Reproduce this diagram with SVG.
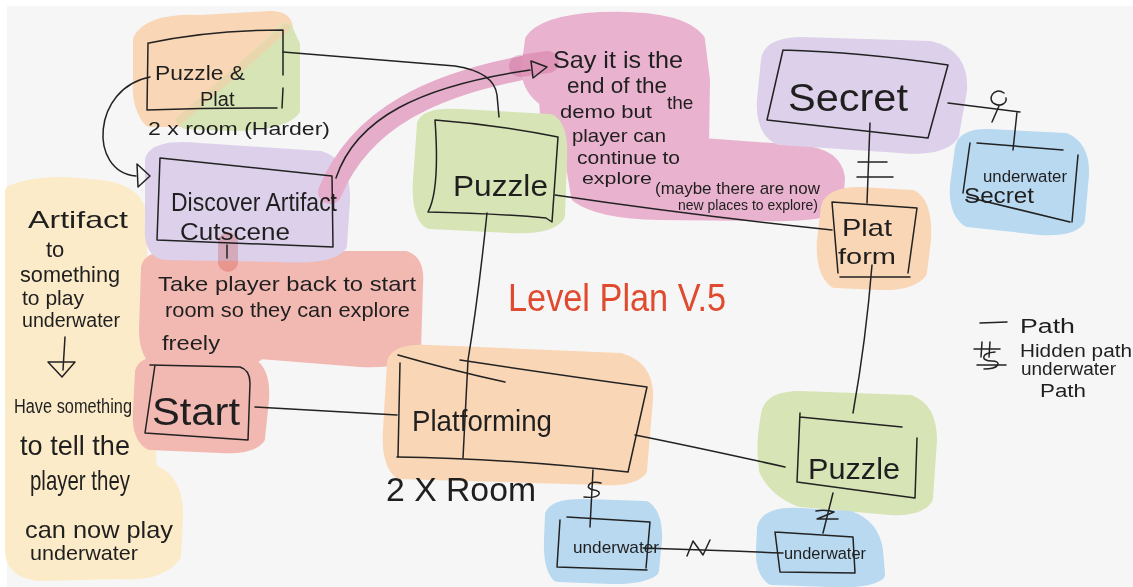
<svg xmlns="http://www.w3.org/2000/svg" width="1133" height="587" viewBox="0 0 1133 587">
  <style>
    .blob { stroke-linejoin: round; stroke-linecap: round; stroke-width: 14; }
    .mul { mix-blend-mode: multiply; }
    .orange { fill: #f9d6b5; stroke: #f9d6b5; }
    .green { fill: #d7e4b6; stroke: #d7e4b6; }
    .purple { fill: #ddd0ea; stroke: #ddd0ea; }
    .pink { fill: #e9b2ce; stroke: #e9b2ce; }
    .salmon { fill: #f2b9b3; stroke: #f2b9b3; }
    .blue { fill: #b9d9f0; stroke: #b9d9f0; }
    .yellow { fill: #fcebc9; stroke: #fcebc9; }
    .ink { fill: none; stroke: #222; stroke-width: 1.5; stroke-linecap: round; stroke-linejoin: round; }
    text { font-family: "Liberation Sans", "DejaVu Sans", sans-serif; fill: #1f1f1f; }
    .title { fill: #e04a2f; }
  </style>

  <!-- paper -->
  <rect x="0" y="0" width="1133" height="587" fill="#ffffff"/>
  <rect x="7" y="6" width="1126" height="581" fill="#f6f6f6"/>

  <!-- side note: artifact -->
  <g id="note-artifact">
    <path class="blob yellow" d="M 12 192 Q 40 180 90 186 Q 135 188 140 215 L 140 365 Q 150 380 145 400 L 150 470 Q 178 480 176 520 L 174 555 Q 160 575 120 572 L 40 574 Q 12 572 12 550 Z"/>
    <text x="28" y="228" font-size="24" textLength="100" lengthAdjust="spacingAndGlyphs">Artifact</text>
    <text x="46" y="257" font-size="22">to</text>
    <text x="20" y="282" font-size="22" textLength="100" lengthAdjust="spacingAndGlyphs">something</text>
    <text x="22" y="305" font-size="21" textLength="62" lengthAdjust="spacingAndGlyphs">to play</text>
    <text x="22" y="327" font-size="20" textLength="98" lengthAdjust="spacingAndGlyphs">underwater</text>
    <path class="ink" d="M 65 337 L 63 370 M 48 362 L 75 362 L 62 377 Z"/>
    <text x="14" y="413" font-size="20" textLength="118" lengthAdjust="spacingAndGlyphs">Have something</text>
    <text x="20" y="455" font-size="28" textLength="110" lengthAdjust="spacingAndGlyphs">to tell the</text>
    <text x="30" y="490" font-size="28" textLength="100" lengthAdjust="spacingAndGlyphs">player they</text>
    <text x="25" y="538" font-size="24" textLength="148" lengthAdjust="spacingAndGlyphs">can now play</text>
    <text x="30" y="560" font-size="21" textLength="108" lengthAdjust="spacingAndGlyphs">underwater</text>
  </g>

  <!-- take player back note -->
  <g id="note-take-back">
    <path class="blob salmon" d="M 148 268 Q 150 256 180 258 L 405 258 Q 418 262 416 285 L 414 350 Q 400 362 360 360 L 260 352 Q 250 362 220 362 L 160 362 Q 146 355 146 330 Z"/>
    <text x="158" y="291" font-size="21" textLength="258" lengthAdjust="spacingAndGlyphs">Take player back to start</text>
    <text x="165" y="317" font-size="21" textLength="245" lengthAdjust="spacingAndGlyphs">room so they can explore</text>
    <text x="162" y="350" font-size="20" textLength="58" lengthAdjust="spacingAndGlyphs">freely</text>
  </g>

  <!-- level rooms -->
  <g id="room-puzzle-plat">
    <path class="blob orange" d="M 140 40 Q 150 20 200 22 L 270 18 Q 285 18 286 28 L 180 120 L 150 120 Q 138 105 140 80 Z"/>
    <path class="blob green" d="M 286 30 L 293 45 L 293 110 Q 280 124 230 124 L 186 122 Z"/>
    <path d="M 286 28 L 180 120" stroke="#ead6ad" stroke-width="8" stroke-linecap="round"/>
    <path class="ink" d="M 149 43 Q 210 30 283 30 M 148 43 L 147 110 Q 210 108 277 108 M 283 30 L 283 75 M 283 88 L 282 108"/>
    <text x="155" y="80" font-size="21" textLength="90" lengthAdjust="spacingAndGlyphs">Puzzle &amp;</text>
    <text x="200" y="106" font-size="20">Plat</text>
    <text x="148" y="135" font-size="18" textLength="182" lengthAdjust="spacingAndGlyphs">2 x room (Harder)</text>
  </g>

  <g id="room-cutscene">
    <path class="blob purple" d="M 152 160 Q 156 146 200 150 L 320 158 Q 344 166 343 200 L 340 245 Q 330 258 280 255 L 165 253 Q 150 250 152 225 Z"/>
    <!-- highlight band that carries the connector up to the note -->
    <path d="M 330 192 C 360 120, 430 82, 545 64" fill="none" stroke="#e6adcb" stroke-width="24" stroke-linecap="round"/>
    <path class="ink" d="M 160 158 L 332 176 L 333 247 L 157 240 Z"/>
    <text x="171" y="211" font-size="26" textLength="166" lengthAdjust="spacingAndGlyphs">Discover Artifact</text>
    <text x="180" y="240" font-size="24" textLength="110" lengthAdjust="spacingAndGlyphs">Cutscene</text>
  </g>

  <!-- short band below the cutscene -->
  <path class="mul" d="M 228 242 L 228 262" fill="none" stroke="#f5cfcb" stroke-width="20" stroke-linecap="round"/>

  <!-- end of demo note -->
  <g id="note-demo-end">
    <path class="blob pink" d="M 532 40 Q 545 22 600 19 Q 680 16 698 40 L 703 80 L 702 145 L 800 152 Q 835 155 838 178 L 836 205 Q 820 216 760 214 L 660 213 Q 600 212 578 196 L 572 160 Q 552 150 548 130 L 546 100 Q 530 90 528 70 Z"/>
    <path class="mul" d="M 520 66 L 548 62" stroke="#f3d6e4" stroke-width="22" stroke-linecap="round"/>
    <text x="553" y="68" font-size="24" textLength="130" lengthAdjust="spacingAndGlyphs">Say it is the</text>
    <text x="567" y="93" font-size="22" textLength="100" lengthAdjust="spacingAndGlyphs">end of the</text>
    <text x="667" y="109" font-size="19">the</text>
    <text x="560" y="118" font-size="19" textLength="92" lengthAdjust="spacingAndGlyphs">demo but</text>
    <text x="572" y="142" font-size="19" textLength="94" lengthAdjust="spacingAndGlyphs">player can</text>
    <text x="577" y="164" font-size="18" textLength="103" lengthAdjust="spacingAndGlyphs">continue to</text>
    <text x="582" y="184" font-size="17" textLength="70" lengthAdjust="spacingAndGlyphs">explore</text>
    <text x="655" y="194" font-size="17" textLength="165" lengthAdjust="spacingAndGlyphs">(maybe there are now</text>
    <text x="678" y="210" font-size="14" textLength="140" lengthAdjust="spacingAndGlyphs">new places to explore)</text>
  </g>

  <g id="room-puzzle-top">
    <path class="blob green" d="M 424 124 Q 428 114 460 116 L 550 121 Q 562 128 560 160 L 558 215 Q 550 228 510 226 L 430 222 Q 418 215 420 180 Z"/>
    <path class="ink" d="M 435 120 Q 500 125 558 137 L 552 222 L 546 218 Q 490 213 428 212 Q 440 190 435 120"/>
    <text x="453" y="196" font-size="30" textLength="95" lengthAdjust="spacingAndGlyphs">Puzzle</text>
  </g>

  <g id="room-secret">
    <path class="blob purple" d="M 768 60 Q 770 45 800 44 L 930 48 Q 962 55 960 90 L 952 135 Q 940 150 900 146 L 780 138 Q 762 130 764 100 Z"/>
    <path class="ink" d="M 783 50 L 767 120 L 928 138 L 948 65 Q 860 52 783 50"/>
    <text x="788" y="111" font-size="38" textLength="120" lengthAdjust="spacingAndGlyphs">Secret</text>
  </g>

  <g id="room-underwater-secret">
    <path class="blob blue" d="M 962 148 Q 965 135 990 136 L 1065 140 Q 1083 148 1082 175 L 1078 220 Q 1070 230 1040 228 L 968 220 Q 955 210 957 185 Z"/>
    <path class="ink" d="M 977 143 L 1063 150 M 970 143 L 963 193 M 967 197 L 1070 222 M 1078 155 L 1072 222"/>
    <text x="983" y="182" font-size="16" textLength="84" lengthAdjust="spacingAndGlyphs">underwater</text>
    <text x="964" y="203" font-size="22" textLength="70" lengthAdjust="spacingAndGlyphs">Secret</text>
  </g>

  <g id="room-platform-small">
    <path class="blob orange" d="M 828 207 Q 832 194 860 194 L 912 197 Q 926 205 924 240 L 920 272 Q 910 284 880 283 L 835 281 Q 822 270 824 240 Z"/>
    <path class="ink" d="M 832 202 L 917 208 L 908 273 M 832 202 L 838 273 M 840 277 L 910 277"/>
    <text x="842" y="236" font-size="24" textLength="50" lengthAdjust="spacingAndGlyphs">Plat</text>
    <text x="838" y="264" font-size="22" textLength="58" lengthAdjust="spacingAndGlyphs">form</text>
  </g>

  <g id="room-start">
    <path class="blob salmon" d="M 142 372 Q 145 360 180 362 L 250 364 Q 264 372 262 400 L 258 438 Q 250 448 220 446 L 150 443 Q 138 435 140 410 Z"/>
    <path class="ink" d="M 150 365 L 240 367 Q 250 370 250 383 L 248 440 L 145 433 L 155 365"/>
    <text x="152" y="425" font-size="38" textLength="88" lengthAdjust="spacingAndGlyphs">Start</text>
  </g>

  <g id="room-platforming">
    <path class="blob orange" d="M 394 362 Q 398 350 430 352 L 620 360 Q 648 368 646 400 L 640 470 Q 630 480 600 478 L 400 472 Q 388 462 390 430 Z"/>
    <path class="ink" d="M 398 355 Q 450 370 505 382 M 460 360 Q 560 375 647 387 L 628 472 Q 500 458 397 457 M 400 363 L 398 457"/>
    <text x="412" y="431" font-size="30" textLength="140" lengthAdjust="spacingAndGlyphs">Platforming</text>
    <text x="386" y="501" font-size="34" fill="#3a3a3a" textLength="150" lengthAdjust="spacingAndGlyphs">2 X Room</text>
  </g>

  <g id="room-puzzle-bottom">
    <path class="blob green" d="M 768 415 Q 770 398 800 398 L 910 402 Q 930 410 930 440 L 926 498 Q 918 510 890 508 L 800 500 Q 775 490 766 470 Q 762 445 768 415 Z"/>
    <path class="ink" d="M 800 417 L 902 427 M 800 413 L 797 482 L 915 498 L 917 438"/>
    <text x="808" y="479" font-size="30" textLength="92" lengthAdjust="spacingAndGlyphs">Puzzle</text>
  </g>

  <g id="room-underwater-left">
    <path class="blob blue" d="M 552 515 Q 556 505 585 506 L 645 508 Q 656 515 655 540 L 652 570 Q 640 578 610 577 L 558 575 Q 550 565 551 540 Z"/>
    <path class="ink" d="M 567 517 L 650 522 L 646 568 M 560 520 L 557 567 L 647 570"/>
    <text x="573" y="553" font-size="17" textLength="86" lengthAdjust="spacingAndGlyphs">underwater</text>
  </g>

  <g id="room-underwater-right">
    <path class="blob blue" d="M 764 528 Q 768 513 800 515 L 850 518 Q 872 526 876 550 L 878 574 Q 865 582 830 580 L 772 578 Q 762 570 763 550 Z"/>
    <path class="ink" d="M 775 532 L 853 537 L 855 573 L 780 572 L 775 532"/>
    <text x="784" y="559" font-size="16" textLength="82" lengthAdjust="spacingAndGlyphs">underwater</text>
  </g>

  <!-- paths between rooms -->
  <g id="connectors">
    <!-- puzzle & plat loops down to the cutscene -->
    <path class="ink" d="M 150 77 C 92 88, 88 172, 136 176"/>
    <path class="ink" d="M 137 164 L 138 187 L 150 176 Z"/>
    <!-- puzzle & plat to top puzzle -->
    <path class="ink" d="M 283 52 L 455 66 Q 494 72 497 95 L 499 117"/>
    <!-- cutscene to end-of-demo note -->
    <path class="ink" d="M 336 178 C 356 118, 420 86, 530 70"/>
    <path class="ink" d="M 531 61 L 533 78 L 547 67 Z"/>
    <!-- cutscene to take-back note -->
    <path class="ink" d="M 227 245 L 227 258"/>
    <!-- top puzzle down to platforming -->
    <path class="ink" d="M 487 213 Q 478 300 468 360 L 463 458"/>
    <!-- top puzzle to plat form -->
    <path class="ink" d="M 555 195 Q 690 215 832 230"/>
    <!-- secret to plat form, hidden -->
    <path class="ink" d="M 870 123 L 867 203 M 858 162 L 887 162 M 857 177 L 893 177"/>
    <!-- secret to underwater secret -->
    <path class="ink" d="M 948 103 L 1020 112 M 1017 112 L 1013 150"/>
    <path class="ink" d="M 1004 93 C 994 86, 986 100, 995 104 C 1001 107, 1007 103, 1006 98 M 999 106 L 992 122"/>
    <!-- plat form down to bottom puzzle -->
    <path class="ink" d="M 872 265 Q 866 340 853 413"/>
    <!-- start to platforming -->
    <path class="ink" d="M 255 407 L 397 415"/>
    <!-- platforming to bottom puzzle -->
    <path class="ink" d="M 635 435 Q 700 448 785 467"/>
    <!-- platforming to underwater, underwater path -->
    <path class="ink" d="M 593 470 L 590 527"/>
    <path class="ink" d="M 601 483 C 588 480, 584 489, 594 490 C 603 491, 601 499, 584 497"/>
    <!-- underwater to underwater -->
    <path class="ink" d="M 643 548 Q 710 550 783 553"/>
    <path class="ink" d="M 687 556 L 693 541 L 703 555 L 710 540"/>
    <!-- bottom puzzle to underwater -->
    <path class="ink" d="M 833 493 L 823 533"/>
    <path class="ink" d="M 816 511 Q 826 509 834 512 L 817 519 L 838 519"/>
  </g>

  <!-- title -->
  <text class="title" x="508" y="311" font-size="38" textLength="218" lengthAdjust="spacingAndGlyphs">Level Plan V.5</text>

  <!-- legend -->
  <g id="legend">
    <path class="ink" d="M 980 323 L 1007 322"/>
    <text x="1020" y="333" font-size="20" textLength="55" lengthAdjust="spacingAndGlyphs">Path</text>
    <path class="ink" d="M 974 349 L 1000 349 M 982 342 L 981 357 M 990 342 L 989 357"/>
    <text x="1020" y="357" font-size="18" textLength="112" lengthAdjust="spacingAndGlyphs">Hidden path</text>
    <path class="ink" d="M 995 352 C 981 353, 980 361, 992 361 C 1002 361, 1000 369, 984 369 M 977 365 L 1006 365"/>
    <text x="1021" y="375" font-size="18" textLength="95" lengthAdjust="spacingAndGlyphs">underwater</text>
    <text x="1040" y="397" font-size="18" textLength="46" lengthAdjust="spacingAndGlyphs">Path</text>
  </g>
</svg>
